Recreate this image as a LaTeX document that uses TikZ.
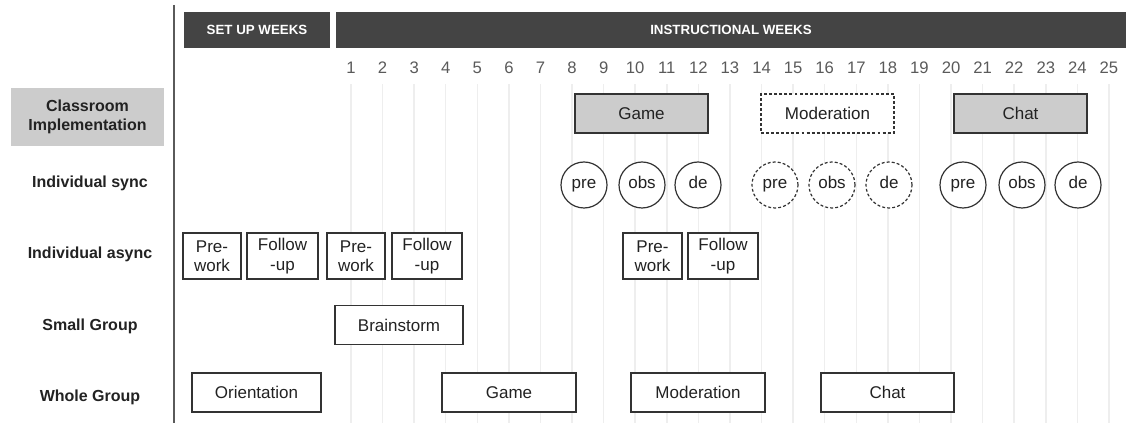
\documentclass[tikz,border=0pt]{standalone}
\usepackage{fontspec}
\setmainfont{Liberation Sans}
\usepackage{xcolor}
\usepackage{tikz}
\usetikzlibrary{positioning}

\definecolor{barcol}{HTML}{444444}
\definecolor{edgecol}{HTML}{333333}
\definecolor{textcol}{HTML}{222222}
\definecolor{numcol}{HTML}{5A5A5A}
\definecolor{gridcol}{HTML}{EEEEEE}
\definecolor{shadecol}{HTML}{CCCCCC}

\tikzset{
  phasebar/.style={fill=barcol, text=white, font=\fontsize{10}{11}\selectfont\bfseries,
    minimum height=27pt, minimum width=#1*0.75pt, inner sep=0pt},
  rowlabel/.style={font=\fontsize{12}{14.5}\selectfont\bfseries, text=textcol, align=center},
  weeknum/.style={font=\fontsize{12.5}{14}\selectfont, text=numcol},
  actbox/.style={draw=edgecol, line width=0.9pt, fill=white, text=textcol,
    font=\fontsize{12.75}{15}\selectfont, align=center, inner sep=1pt,
    minimum height=29.25pt, minimum width=#1*0.75pt},
  twobox/.style={actbox=#1, minimum height=34.5pt, font=\fontsize{12.75}{14.5}\selectfont},
  classbox/.style={actbox=#1, fill=shadecol},
  planbox/.style={actbox=#1, dash pattern=on 2.2pt off 1.6pt},
  meet/.style={circle, draw=edgecol, line width=0.9pt, fill=white, text=textcol,
    font=\fontsize{12.75}{15}\selectfont, minimum size=34.5pt, inner sep=0pt,
    text height=0.72em, text depth=0.2em},
  planmeet/.style={meet, dash pattern=on 2.2pt off 1.6pt}
}

\begin{document}
\begin{tikzpicture}[x=0.75pt, y=-0.75pt]
  \useasboundingbox (0,0) rectangle (1126,423);

  % week grid
  \foreach \n in {1,...,25} {
    \draw[gridcol, line width=1.1pt] ({351+31.58*(\n-1)},84) -- ({351+31.58*(\n-1)},423);
    \node[weeknum] (wk\n) at ({351+31.58*(\n-1)},68) {\n};
  }

  \draw[numcol, line width=1.5pt] (174,5) -- (174,423);

  % header
  \node[phasebar=146] (setup) at (257,30) {SET UP WEEKS};
  \node[phasebar=790] (instr) at (731,30) {INSTRUCTIONAL WEEKS};

  % row labels
  \node[rowlabel, fill=shadecol, minimum width=114.75pt, minimum height=43.5pt] (lclass) at (87.5,117) {Classroom\\Implementation};
  \node[rowlabel] (lsync) at (90,183) {Individual sync};
  \node[rowlabel] (lasync) at (90,254) {Individual async};
  \node[rowlabel] (lsmall) at (90,326) {Small Group};
  \node[rowlabel] (lwhole) at (90,397) {Whole Group};

  % classroom implementation
  \node[classbox=133] (cgame) at (641.5,113.5) {Game};
  \node[planbox=133] (cmod) at (827.5,113.5) {Moderation};
  \node[classbox=133] (cchat) at (1020.5,113.5) {Chat};

  % individual sync
  \node[meet] (pre1) at (584,185) {pre};
  \node[meet] (obs1) at (642,185) {obs};
  \node[meet] (de1) at (698,185) {de};
  \node[planmeet] (pre2) at (775,185) {pre};
  \node[planmeet] (obs2) at (832,185) {obs};
  \node[planmeet] (de2) at (889,185) {de};
  \node[meet] (pre3) at (963,185) {pre};
  \node[meet] (obs3) at (1022,185) {obs};
  \node[meet] (de3) at (1078,185) {de};

  % individual async
  \node[twobox=58] (pw1) at (212,256) {Pre-\\work};
  \node[twobox=71] (fu1) at (282.5,256) {Follow\\-up};
  \node[twobox=58] (pw2) at (356,256) {Pre-\\work};
  \node[twobox=70] (fu2) at (427,256) {Follow\\-up};
  \node[twobox=59] (pw3) at (652.5,256) {Pre-\\work};
  \node[twobox=70] (fu3) at (723,256) {Follow\\-up};

  % small group
  \node[actbox=128] (brain) at (399,325) {Brainstorm};

  % whole group
  \node[actbox=129] (orient) at (256.5,392.5) {Orientation};
  \node[actbox=134] (wgame) at (509,392.5) {Game};
  \node[actbox=134] (wmod) at (698,392.5) {Moderation};
  \node[actbox=133] (wchat) at (887.5,392.5) {Chat};
\end{tikzpicture}
\end{document}
